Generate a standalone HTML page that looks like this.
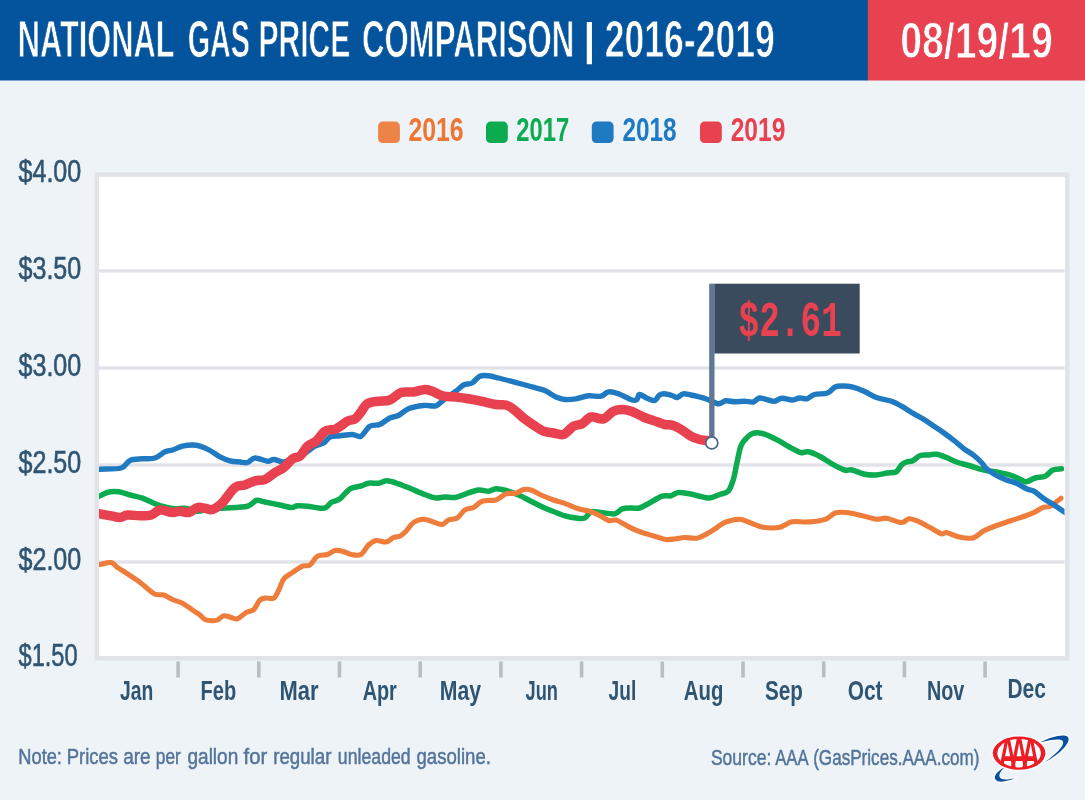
<!DOCTYPE html>
<html lang="en"><head><meta charset="utf-8"><title>National Gas Price Comparison | 2016-2019</title>
<style>html,body{margin:0;padding:0;background:#eef3f8}svg{display:block}text{font-family:"Liberation Sans",sans-serif}.m{font-family:"Liberation Mono",monospace}</style></head><body>
<svg width="1085" height="800" viewBox="0 0 1085 800">
<rect width="1085" height="800" fill="#eef3f8"/>
<rect x="0" y="0" width="868" height="80.5" fill="#03539d"/>
<rect x="867.8" y="0" width="217.2" height="80.5" fill="#e8414f"/>
<text x="17.69" y="56.8" font-size="51.0" font-weight="bold" fill="#fff" textLength="156.96" lengthAdjust="spacingAndGlyphs" stroke="#03539d" stroke-width="0.90">NATIONAL</text>
<text x="187.63" y="56.8" font-size="51.0" font-weight="bold" fill="#fff" textLength="62.25" lengthAdjust="spacingAndGlyphs" stroke="#03539d" stroke-width="0.90">GAS</text>
<text x="258.56" y="56.8" font-size="51.0" font-weight="bold" fill="#fff" textLength="91.77" lengthAdjust="spacingAndGlyphs" stroke="#03539d" stroke-width="0.90">PRICE</text>
<text x="362.12" y="56.8" font-size="51.0" font-weight="bold" fill="#fff" textLength="212.11" lengthAdjust="spacingAndGlyphs" stroke="#03539d" stroke-width="0.90">COMPARISON</text>
<text x="583.85" y="54.0" font-size="44.0" font-weight="bold" fill="#fff" textLength="11.24" lengthAdjust="spacingAndGlyphs">|</text>
<text x="604.78" y="56.8" font-size="51.0" font-weight="bold" fill="#fff" textLength="170.02" lengthAdjust="spacingAndGlyphs" stroke="#03539d" stroke-width="0.90">2016-2019</text>
<text x="900.26" y="58.2" font-size="49.6" font-weight="bold" fill="#fff" textLength="152.57" lengthAdjust="spacingAndGlyphs" stroke="#e8414f" stroke-width="0.90">08/19/19</text>
<rect x="378.1" y="121.6" width="21.8" height="21.5" rx="4.5" fill="#ee8347"/>
<rect x="486.0" y="121.6" width="21.8" height="21.5" rx="4.5" fill="#0cab50"/>
<rect x="591.8" y="121.6" width="21.8" height="21.5" rx="4.5" fill="#1f7ac2"/>
<rect x="700.0" y="121.6" width="21.8" height="21.5" rx="4.5" fill="#e8414f"/>
<text x="408.42" y="141.1" font-size="33.0" font-weight="bold" fill="#ec7633" textLength="55.25" lengthAdjust="spacingAndGlyphs">2016</text>
<text x="516.35" y="141.1" font-size="33.0" font-weight="bold" fill="#0cab50" textLength="52.92" lengthAdjust="spacingAndGlyphs">2017</text>
<text x="622.45" y="141.1" font-size="33.0" font-weight="bold" fill="#1f7ac2" textLength="54.22" lengthAdjust="spacingAndGlyphs">2018</text>
<text x="730.63" y="141.1" font-size="33.0" font-weight="bold" fill="#e8414f" textLength="54.69" lengthAdjust="spacingAndGlyphs">2019</text>
<rect x="96.75" y="174.6" width="970.5" height="483.7" fill="#fff" stroke="#e2e2e9" stroke-width="4.5"/>
<rect x="99" y="269.2" width="965.5" height="3.4" fill="#e2e2e9"/>
<rect x="99" y="366.3" width="965.5" height="3.4" fill="#e2e2e9"/>
<rect x="99" y="463.3" width="965.5" height="3.4" fill="#e2e2e9"/>
<rect x="99" y="560.3" width="965.5" height="3.4" fill="#e2e2e9"/>
<text x="18.50" y="182.3" font-size="32.0" font-weight="normal" fill="#2f5573" textLength="62.76" lengthAdjust="spacingAndGlyphs" stroke="#2f5573" stroke-width="0.60">$4.00</text>
<text x="18.50" y="279.2" font-size="32.0" font-weight="normal" fill="#2f5573" textLength="62.76" lengthAdjust="spacingAndGlyphs" stroke="#2f5573" stroke-width="0.60">$3.50</text>
<text x="18.50" y="375.9" font-size="32.0" font-weight="normal" fill="#2f5573" textLength="62.76" lengthAdjust="spacingAndGlyphs" stroke="#2f5573" stroke-width="0.60">$3.00</text>
<text x="18.50" y="472.9" font-size="32.0" font-weight="normal" fill="#2f5573" textLength="62.76" lengthAdjust="spacingAndGlyphs" stroke="#2f5573" stroke-width="0.60">$2.50</text>
<text x="18.50" y="569.9" font-size="32.0" font-weight="normal" fill="#2f5573" textLength="62.76" lengthAdjust="spacingAndGlyphs" stroke="#2f5573" stroke-width="0.60">$2.00</text>
<text x="18.53" y="666.3" font-size="32.0" font-weight="normal" fill="#2f5573" textLength="59.11" lengthAdjust="spacingAndGlyphs" stroke="#2f5573" stroke-width="0.60">$1.50</text>
<rect x="176.3" y="661.5" width="3.6" height="16" fill="#b9bec2"/>
<rect x="257.0" y="661.5" width="3.6" height="16" fill="#b9bec2"/>
<rect x="337.7" y="661.5" width="3.6" height="16" fill="#b9bec2"/>
<rect x="418.4" y="661.5" width="3.6" height="16" fill="#b9bec2"/>
<rect x="499.1" y="661.5" width="3.6" height="16" fill="#b9bec2"/>
<rect x="579.8" y="661.5" width="3.6" height="16" fill="#b9bec2"/>
<rect x="660.5" y="661.5" width="3.6" height="16" fill="#b9bec2"/>
<rect x="741.2" y="661.5" width="3.6" height="16" fill="#b9bec2"/>
<rect x="821.9" y="661.5" width="3.6" height="16" fill="#b9bec2"/>
<rect x="902.6" y="661.5" width="3.6" height="16" fill="#b9bec2"/>
<rect x="983.3" y="661.5" width="3.6" height="16" fill="#b9bec2"/>
<text x="120.11" y="699.5" font-size="28.5" font-weight="bold" fill="#2f5573" textLength="33.28" lengthAdjust="spacingAndGlyphs">Jan</text>
<text x="200.51" y="699.5" font-size="28.5" font-weight="bold" fill="#2f5573" textLength="35.61" lengthAdjust="spacingAndGlyphs">Feb</text>
<text x="279.41" y="699.5" font-size="28.5" font-weight="bold" fill="#2f5573" textLength="39.03" lengthAdjust="spacingAndGlyphs">Mar</text>
<text x="362.64" y="699.5" font-size="28.5" font-weight="bold" fill="#2f5573" textLength="34.22" lengthAdjust="spacingAndGlyphs">Apr</text>
<text x="439.83" y="699.5" font-size="28.5" font-weight="bold" fill="#2f5573" textLength="41.24" lengthAdjust="spacingAndGlyphs">May</text>
<text x="525.53" y="699.5" font-size="28.5" font-weight="bold" fill="#2f5573" textLength="32.40" lengthAdjust="spacingAndGlyphs">Jun</text>
<text x="608.58" y="699.5" font-size="28.5" font-weight="bold" fill="#2f5573" textLength="27.72" lengthAdjust="spacingAndGlyphs">Jul</text>
<text x="683.81" y="699.5" font-size="28.5" font-weight="bold" fill="#2f5573" textLength="39.55" lengthAdjust="spacingAndGlyphs">Aug</text>
<text x="765.05" y="699.5" font-size="28.5" font-weight="bold" fill="#2f5573" textLength="37.91" lengthAdjust="spacingAndGlyphs">Sep</text>
<text x="847.66" y="699.5" font-size="28.5" font-weight="bold" fill="#2f5573" textLength="34.94" lengthAdjust="spacingAndGlyphs">Oct</text>
<text x="926.93" y="699.5" font-size="28.5" font-weight="bold" fill="#2f5573" textLength="37.43" lengthAdjust="spacingAndGlyphs">Nov</text>
<text x="1007.49" y="697.7" font-size="28.5" font-weight="bold" fill="#2f5573" textLength="38.46" lengthAdjust="spacingAndGlyphs">Dec</text>
<defs><clipPath id="pc"><rect x="99" y="176.8" width="965.5" height="479.3"/></clipPath></defs>
<g fill="none" stroke-linejoin="round" stroke-linecap="round" clip-path="url(#pc)">
<path d="M97.0 497.0C97.5 496.8 98.0 496.6 100.0 495.8C102.0 495.0 105.7 492.7 108.8 492.0C111.9 491.3 115.3 491.3 118.8 491.8C122.3 492.3 126.0 493.9 130.0 495.0C133.9 496.1 138.3 496.7 142.5 498.2C146.7 499.7 151.2 502.3 155.0 503.8C158.8 505.3 161.7 506.2 165.0 507.0C168.3 507.8 171.7 508.6 175.0 508.8C178.3 509.0 181.2 507.8 185.0 508.2C188.8 508.6 193.3 511.1 197.5 511.2C201.7 511.3 205.4 509.3 210.0 508.8C214.6 508.3 218.8 508.4 225.0 508.0C231.2 507.6 242.3 507.4 247.5 506.2C252.7 504.9 253.3 501.2 256.2 500.5C259.1 499.8 261.0 501.2 265.0 502.0C269.0 502.8 275.6 504.1 280.0 505.0C284.4 505.9 288.3 507.4 291.2 507.5C294.1 507.6 294.8 506.0 297.5 505.8C300.2 505.6 303.1 505.8 307.5 506.2C311.9 506.6 319.9 508.8 323.8 508.2C327.8 507.6 328.5 504.1 331.2 502.5C333.9 500.9 336.9 501.1 340.0 498.8C343.1 496.5 346.5 490.9 350.0 488.8C353.5 486.7 357.9 486.9 361.0 486.0C364.1 485.1 365.6 483.7 368.5 483.2C371.4 482.7 375.4 483.6 378.5 483.2C381.6 482.8 383.9 480.7 387.2 480.8C390.5 480.9 394.5 482.5 398.5 483.8C402.5 485.1 406.4 486.9 411.0 488.8C415.6 490.7 421.8 493.5 426.0 495.0C430.2 496.5 432.9 497.7 436.0 498.0C439.1 498.3 441.7 497.1 444.8 497.0C447.9 496.9 451.3 498.0 454.8 497.5C458.3 497.0 462.1 495.1 466.0 493.8C469.9 492.6 474.8 490.4 478.5 490.0C482.2 489.6 485.6 491.4 488.5 491.2C491.4 491.0 493.1 488.9 496.0 488.8C498.9 488.7 502.2 489.5 506.0 490.5C509.8 491.5 514.3 493.2 518.5 495.0C522.7 496.8 526.8 499.1 531.0 501.2C535.2 503.3 539.3 505.6 543.5 507.5C547.7 509.4 552.2 511.1 556.0 512.5C559.8 514.0 562.7 515.3 566.0 516.2C569.3 517.1 572.9 517.7 576.0 518.0C579.1 518.3 582.3 519.0 584.8 518.0C587.3 517.0 588.3 512.7 591.0 511.8C593.7 510.9 597.0 512.2 601.0 512.5C605.0 512.8 611.3 514.4 614.8 513.8C618.3 513.2 619.3 509.8 622.2 508.8C625.1 507.8 629.1 508.1 632.0 508.0C634.9 507.9 636.6 508.8 639.5 508.0C642.4 507.2 645.8 505.0 649.5 503.0C653.2 501.0 658.5 497.4 662.0 496.2C665.5 495.0 668.1 496.4 670.8 495.8C673.5 495.2 675.1 492.8 678.2 492.5C681.3 492.2 686.0 493.2 689.5 493.8C693.0 494.4 696.2 495.5 699.5 496.2C702.8 496.9 706.2 498.3 709.5 498.0C712.8 497.7 716.4 495.6 719.5 494.5C722.6 493.4 725.9 493.6 728.2 491.2C730.5 488.8 731.7 484.8 733.2 480.0C734.7 475.2 735.7 468.1 737.0 462.5C738.3 456.9 739.3 450.1 740.8 446.2C742.3 442.2 743.9 440.9 745.8 438.8C747.7 436.7 749.7 434.8 752.0 433.8C754.3 432.8 756.8 432.7 759.5 433.0C762.2 433.3 764.9 434.1 768.2 435.5C771.5 436.9 776.0 439.3 779.5 441.2C783.0 443.1 786.0 445.1 789.5 447.0C793.0 448.9 797.7 451.7 800.8 452.5C803.9 453.3 805.1 451.2 808.2 451.8C811.3 452.4 815.5 454.2 819.5 456.2C823.5 458.2 827.8 461.5 832.0 463.8C836.2 466.1 841.2 469.0 844.5 470.0C847.8 471.0 848.7 469.3 852.0 470.0C855.3 470.7 860.5 473.4 864.5 474.2C868.5 475.0 872.2 475.2 876.0 475.0C879.8 474.8 883.7 473.5 887.0 473.0C890.3 472.5 893.6 473.3 896.0 472.0C898.4 470.7 899.8 466.7 901.5 465.0C903.2 463.3 904.6 462.7 906.5 462.0C908.4 461.3 910.5 461.9 912.8 460.8C915.1 459.7 917.5 456.5 920.2 455.5C922.9 454.5 926.3 455.2 929.0 455.0C931.7 454.8 933.6 453.8 936.5 454.2C939.4 454.6 943.2 456.2 946.5 457.5C949.8 458.8 952.8 460.7 956.5 462.0C960.2 463.3 964.4 464.2 969.0 465.5C973.6 466.8 979.0 468.8 984.0 470.0C989.0 471.2 994.4 471.6 999.0 472.5C1003.6 473.4 1007.8 474.2 1011.5 475.5C1015.2 476.8 1019.0 478.9 1021.5 480.0C1024.0 481.1 1024.2 482.1 1026.5 481.8C1028.8 481.5 1032.1 478.9 1035.2 478.0C1038.3 477.1 1042.3 477.5 1045.2 476.2C1048.1 474.9 1050.1 471.2 1052.8 470.0C1055.5 468.8 1060.0 469.0 1061.5 468.8" stroke="#0cab50" stroke-width="5.5"/>
<path d="M97.0 564.5C97.5 564.5 97.6 564.8 100.0 564.5C102.4 564.2 108.3 562.0 111.2 562.5C114.1 563.0 114.8 565.6 117.5 567.5C120.2 569.4 124.2 571.6 127.5 573.8C130.8 576.0 134.6 578.4 137.5 580.5C140.4 582.6 142.1 584.2 145.0 586.5C147.9 588.8 151.9 592.8 155.0 594.2C158.1 595.6 160.9 594.1 163.8 595.0C166.7 595.9 169.4 598.1 172.5 599.5C175.6 600.9 179.2 601.5 182.5 603.2C185.8 605.0 189.6 608.0 192.5 610.0C195.4 612.0 197.9 613.4 200.0 615.0C202.1 616.6 202.9 618.5 205.0 619.5C207.1 620.5 210.4 620.7 212.5 620.8C214.6 620.9 215.6 620.8 217.5 620.0C219.4 619.2 221.5 616.2 223.8 615.8C226.1 615.4 228.9 617.0 231.2 617.5C233.5 618.0 235.0 619.6 237.5 618.8C240.0 618.0 243.5 614.0 246.2 612.5C248.9 611.0 251.5 611.6 253.8 609.5C256.1 607.4 257.9 601.9 260.0 600.0C262.1 598.1 263.9 598.3 266.2 598.0C268.5 597.7 271.7 599.5 273.8 598.2C275.9 596.9 277.1 593.2 278.8 590.0C280.5 586.8 281.5 581.7 283.8 578.8C286.1 575.9 289.4 574.6 292.5 572.5C295.6 570.4 299.6 567.5 302.5 566.2C305.4 565.0 307.5 566.7 310.0 565.0C312.5 563.3 314.6 558.0 317.5 556.2C320.4 554.5 324.6 555.5 327.5 554.5C330.4 553.5 332.5 551.0 335.0 550.5C337.5 550.0 339.8 550.5 342.5 551.2C345.2 551.9 348.1 554.0 351.2 554.5C354.3 555.0 358.1 556.1 361.0 554.5C363.9 552.9 366.0 547.3 368.5 545.0C371.0 542.7 373.1 541.0 376.0 540.5C378.9 540.0 383.1 542.5 386.0 542.0C388.9 541.5 391.2 538.5 393.5 537.5C395.8 536.5 397.7 537.2 399.8 536.2C401.9 535.2 403.7 533.5 406.0 531.2C408.3 528.9 410.6 524.5 413.5 522.5C416.4 520.5 420.2 519.3 423.5 519.2C426.8 519.1 430.4 521.1 433.5 522.0C436.6 522.9 439.7 524.8 442.2 524.5C444.7 524.2 446.0 521.1 448.5 520.0C451.0 518.9 454.5 519.7 457.2 518.0C459.9 516.3 462.1 511.8 464.8 510.0C467.5 508.2 470.6 509.0 473.5 507.5C476.4 506.0 478.4 502.4 482.2 501.2C485.9 499.9 492.0 501.2 496.0 500.0C500.0 498.8 502.7 494.9 506.0 493.8C509.3 492.7 513.1 493.9 516.0 493.2C518.9 492.5 521.0 490.0 523.5 489.5C526.0 489.0 528.1 489.1 531.0 490.0C533.9 490.9 537.2 493.3 541.0 495.0C544.8 496.7 549.3 498.5 553.5 500.0C557.7 501.5 561.8 502.3 566.0 503.8C570.2 505.3 574.3 507.5 578.5 508.8C582.7 510.1 587.2 510.6 591.0 511.8C594.8 513.0 598.1 514.8 601.0 516.2C603.9 517.7 606.0 519.9 608.5 520.5C611.0 521.1 613.5 519.5 616.0 520.0C618.5 520.5 620.8 522.4 623.5 523.8C626.2 525.2 628.9 526.9 632.0 528.4C635.1 529.9 638.2 531.2 642.0 532.5C645.8 533.8 650.5 535.0 654.5 536.2C658.5 537.4 662.2 539.1 665.8 539.5C669.3 539.9 672.7 539.1 675.8 538.8C678.9 538.5 681.0 537.6 684.5 537.5C688.0 537.4 693.2 538.8 697.0 538.2C700.8 537.6 703.7 535.6 707.0 533.8C710.3 532.0 713.9 529.5 717.0 527.5C720.1 525.5 722.0 523.4 725.8 522.0C729.5 520.6 735.5 519.1 739.5 519.2C743.5 519.3 745.8 521.2 749.5 522.5C753.2 523.8 758.2 526.1 762.0 527.0C765.8 527.9 768.9 528.0 772.0 528.0C775.1 528.0 777.5 528.0 780.8 527.0C784.1 526.0 788.0 522.6 792.0 521.8C796.0 521.0 800.8 522.0 804.5 522.0C808.2 522.0 810.8 522.0 814.5 521.5C818.2 521.0 823.0 520.2 826.5 518.8C830.0 517.4 831.9 514.0 835.2 513.0C838.5 511.9 842.1 512.1 846.5 512.5C850.9 512.9 856.5 514.4 861.5 515.5C866.5 516.6 872.3 518.8 876.5 519.2C880.7 519.7 882.3 517.7 886.5 518.2C890.7 518.8 897.8 522.4 901.5 522.5C905.2 522.6 906.3 519.0 909.0 518.8C911.7 518.6 914.5 519.8 917.8 521.2C921.1 522.6 925.0 524.9 929.0 527.0C933.0 529.1 938.6 532.9 941.5 533.8C944.4 534.7 943.6 532.0 946.5 532.5C949.4 533.0 954.6 536.1 959.0 537.0C963.4 537.9 968.6 539.0 972.8 538.0C977.0 537.0 980.0 532.9 984.0 530.8C988.0 528.7 991.9 527.2 996.5 525.5C1001.1 523.8 1006.5 522.2 1011.5 520.5C1016.5 518.8 1022.8 516.8 1026.5 515.5C1030.2 514.2 1031.3 513.8 1034.0 512.5C1036.7 511.2 1040.1 508.6 1042.8 507.5C1045.5 506.4 1047.2 507.8 1050.2 506.2C1053.2 504.6 1059.2 499.5 1061.0 498.2" stroke="#ee7c3a" stroke-width="5.1"/>
<path d="M97.0 469.5C97.5 469.4 96.0 469.4 100.0 469.2C104.0 468.9 116.2 469.4 121.2 468.0C126.2 466.6 126.5 462.0 130.0 460.5C133.6 459.0 138.3 459.2 142.5 458.8C146.7 458.4 151.2 459.2 155.0 458.0C158.8 456.8 162.1 453.1 165.0 451.8C167.9 450.5 169.6 450.9 172.5 450.0C175.4 449.1 179.2 447.0 182.5 446.2C185.8 445.4 189.6 445.0 192.5 445.0C195.4 445.0 197.1 445.3 200.0 446.2C202.9 447.1 206.7 448.7 210.0 450.5C213.3 452.3 216.7 455.1 220.0 456.8C223.3 458.5 226.7 459.9 230.0 460.8C233.3 461.7 237.1 461.7 240.0 462.0C242.9 462.3 245.0 463.2 247.5 462.5C250.0 461.8 251.7 458.2 255.0 458.0C258.3 457.8 264.4 460.9 267.5 461.2C270.6 461.4 271.1 459.4 273.8 459.5C276.5 459.6 280.6 462.1 283.8 462.0C287.0 461.9 289.9 460.2 293.0 459.0C296.1 457.8 298.8 457.1 302.5 455.0C306.2 452.9 311.4 448.2 315.0 446.2C318.6 444.2 321.3 444.5 323.8 443.0C326.3 441.5 327.3 438.2 330.0 437.0C332.7 435.8 336.2 436.2 340.0 435.8C343.8 435.4 349.0 434.4 352.5 434.5C356.0 434.6 358.1 437.6 361.0 436.2C363.9 434.8 366.7 428.1 369.8 426.2C372.9 424.2 376.5 425.9 379.8 424.5C383.1 423.1 386.7 419.5 389.8 418.0C392.9 416.5 395.4 417.0 398.5 415.5C401.6 414.0 404.3 410.5 408.5 408.8C412.7 407.1 418.9 406.0 423.5 405.5C428.1 405.0 432.7 406.7 436.0 405.8C439.3 404.9 440.2 402.4 443.5 400.0C446.8 397.6 452.7 393.7 456.0 391.2C459.3 388.7 460.8 386.4 463.5 385.0C466.2 383.6 469.5 384.5 472.2 383.0C474.9 381.5 477.1 377.4 479.8 376.2C482.5 375.0 485.4 375.5 488.5 375.8C491.6 376.1 494.8 377.1 498.5 378.0C502.2 378.9 506.8 380.1 511.0 381.2C515.2 382.3 519.3 383.4 523.5 384.5C527.7 385.6 532.5 387.0 536.0 388.0C539.5 389.0 541.5 389.0 544.8 390.5C548.1 392.0 552.7 395.5 556.0 397.0C559.3 398.5 561.5 399.2 564.8 399.5C568.1 399.8 572.0 399.4 576.0 398.8C580.0 398.2 584.3 396.2 588.5 395.8C592.7 395.4 597.7 396.9 601.0 396.2C604.3 395.5 605.6 392.2 608.5 391.8C611.4 391.4 614.6 392.4 618.5 393.8C622.4 395.2 628.9 399.1 632.0 400.0C635.1 400.9 635.8 400.4 637.0 399.5C638.2 398.6 637.8 394.7 639.5 394.5C641.2 394.3 644.5 397.2 647.0 398.2C649.5 399.2 652.4 401.0 654.5 400.5C656.6 400.0 657.8 396.1 659.5 395.0C661.2 393.9 662.4 393.7 664.5 393.8C666.6 393.9 669.9 394.9 672.0 395.5C674.1 396.1 675.1 397.8 677.0 397.5C678.9 397.2 680.9 394.2 683.2 393.8C685.5 393.4 688.1 394.5 690.8 395.0C693.5 395.5 696.8 396.3 699.5 397.0C702.2 397.7 703.9 398.1 707.0 399.2C710.1 400.3 715.1 403.5 718.2 403.8C721.3 404.1 723.1 401.1 725.8 400.8C728.5 400.5 731.4 401.7 734.5 401.8C737.6 401.9 741.4 401.2 744.5 401.2C747.6 401.2 750.7 402.5 753.2 402.0C755.7 401.5 757.0 398.3 759.5 398.0C762.0 397.7 765.7 399.5 768.2 400.0C770.7 400.5 772.2 401.5 774.5 401.2C776.8 400.9 779.1 398.4 782.0 398.2C784.9 398.0 789.1 400.0 792.0 400.0C794.9 400.0 797.0 398.2 799.5 398.0C802.0 397.8 804.5 399.4 807.0 398.8C809.5 398.2 811.1 395.5 814.5 394.5C817.9 393.5 824.1 394.2 827.5 393.0C830.9 391.8 832.4 388.2 835.0 387.0C837.6 385.8 840.0 386.0 843.0 386.0C846.0 386.0 849.5 386.3 853.0 387.2C856.5 388.1 860.1 389.5 864.0 391.2C867.9 392.9 871.9 395.8 876.5 397.5C881.1 399.2 887.3 399.8 891.5 401.2C895.7 402.6 897.8 404.1 901.5 406.2C905.2 408.3 910.2 411.6 914.0 413.8C917.8 416.0 920.7 417.4 924.0 419.5C927.3 421.6 930.7 423.9 934.0 426.2C937.3 428.4 940.7 430.6 944.0 433.0C947.3 435.4 950.7 437.9 954.0 440.5C957.3 443.1 960.7 446.3 964.0 448.8C967.3 451.3 971.1 453.2 974.0 455.5C976.9 457.8 979.4 460.3 981.5 462.5C983.6 464.7 984.0 466.6 986.5 468.8C989.0 471.0 993.2 473.6 996.5 475.5C999.8 477.4 1003.2 478.7 1006.5 480.0C1009.8 481.3 1013.2 481.7 1016.5 483.2C1019.8 484.7 1023.6 487.5 1026.5 488.8C1029.4 490.1 1031.1 489.5 1034.0 491.2C1036.9 492.9 1040.7 496.5 1044.0 498.8C1047.3 501.1 1050.7 502.8 1054.0 505.0C1057.3 507.2 1061.7 510.2 1064.0 511.8C1066.3 513.4 1067.3 514.0 1068.0 514.5" stroke="#1f7ac2" stroke-width="5.4"/>
<path d="M97.0 513.0C97.5 513.1 97.4 513.3 100.0 513.8C102.6 514.3 109.2 515.6 112.5 516.2C115.8 516.8 117.5 517.7 120.0 517.5C122.5 517.3 124.2 515.3 127.5 515.0C130.8 514.7 136.1 515.8 140.0 515.8C143.9 515.8 147.9 516.0 151.2 515.0C154.5 514.0 156.4 510.4 160.0 510.0C163.6 509.6 169.2 512.3 172.5 512.5C175.8 512.7 177.3 511.2 180.0 511.2C182.7 511.2 185.9 513.1 188.8 512.5C191.7 511.9 194.8 508.2 197.5 507.5C200.2 506.8 202.5 507.9 205.0 508.2C207.5 508.5 209.6 510.4 212.5 509.5C215.4 508.6 218.8 506.2 222.5 502.5C226.2 498.8 231.2 490.4 235.0 487.5C238.8 484.6 241.7 486.1 245.0 485.0C248.3 483.9 251.7 481.7 255.0 480.8C258.3 479.9 261.7 480.9 265.0 479.5C268.3 478.1 271.9 474.5 275.0 472.5C278.1 470.5 280.9 469.8 283.8 467.5C286.7 465.2 289.8 460.7 292.5 458.8C295.2 456.9 297.5 458.3 300.0 456.2C302.5 454.1 304.8 448.7 307.5 446.2C310.2 443.7 313.3 443.7 316.2 441.2C319.1 438.7 321.7 433.3 325.0 431.2C328.3 429.1 332.4 430.5 336.2 428.8C339.9 427.1 344.4 422.9 347.5 421.2C350.6 419.5 352.8 420.3 355.0 418.8C357.2 417.3 359.0 414.5 361.0 412.0C363.0 409.5 364.3 405.6 367.2 403.8C370.1 402.0 374.7 401.8 378.5 401.2C382.3 400.6 386.1 401.4 389.8 400.0C393.6 398.6 397.1 393.8 401.0 392.5C404.9 391.2 409.5 392.5 413.5 392.0C417.5 391.5 421.7 389.6 424.8 389.5C427.9 389.4 429.1 390.1 432.2 391.2C435.3 392.3 439.5 395.2 443.5 396.2C447.5 397.2 451.8 396.6 456.0 397.0C460.2 397.4 464.3 398.1 468.5 398.8C472.7 399.5 476.4 400.2 481.0 401.2C485.6 402.1 491.8 403.9 496.0 404.5C500.2 405.1 503.1 404.2 506.0 405.0C508.9 405.8 510.6 407.0 513.5 409.2C516.4 411.4 520.2 415.4 523.5 418.0C526.8 420.6 530.2 422.8 533.5 425.0C536.8 427.2 540.2 429.9 543.5 431.2C546.8 432.5 550.2 432.4 553.5 433.0C556.8 433.6 560.2 435.6 563.5 434.5C566.8 433.4 570.4 428.0 573.5 426.2C576.6 424.4 579.3 425.3 582.2 423.8C585.1 422.3 587.5 417.8 591.0 417.0C594.5 416.2 599.8 419.8 603.5 418.8C607.2 417.8 610.2 412.8 613.5 411.2C616.8 409.6 620.4 409.4 623.5 409.5C626.6 409.6 628.5 410.2 632.0 411.5C635.5 412.8 640.3 415.8 644.5 417.5C648.7 419.2 653.7 420.6 657.0 421.8C660.3 423.0 661.8 423.9 664.5 424.5C667.2 425.1 670.3 424.6 673.2 425.5C676.1 426.4 679.1 428.2 682.0 430.0C684.9 431.8 687.9 434.6 690.8 436.2C693.7 437.8 696.8 438.8 699.5 439.5C702.2 440.2 705.1 440.1 707.0 440.5C708.9 440.9 710.3 441.8 711.0 442.0" stroke="#e8414f" stroke-width="9.5"/>
</g>
<rect x="709.2" y="283.7" width="5.3" height="154" fill="#5d7794"/>
<rect x="714.4" y="283.7" width="145.3" height="69.8" fill="#3a4b5d"/>
<circle cx="711.8" cy="442.9" r="6" fill="#fff" stroke="#4f6784" stroke-width="1.7"/>
<text x="738.52" y="336.0" font-size="50.0" font-weight="bold" fill="#e8414f" textLength="103.32" lengthAdjust="spacingAndGlyphs" class="m">$2.61</text>
<text x="18.34" y="763.8" font-size="22.4" font-weight="normal" fill="#53749a" textLength="43.57" lengthAdjust="spacingAndGlyphs" stroke="#53749a" stroke-width="0.50">Note:</text>
<text x="66.65" y="763.8" font-size="22.4" font-weight="normal" fill="#53749a" textLength="51.36" lengthAdjust="spacingAndGlyphs" stroke="#53749a" stroke-width="0.50">Prices</text>
<text x="123.20" y="763.8" font-size="22.4" font-weight="normal" fill="#53749a" textLength="27.53" lengthAdjust="spacingAndGlyphs" stroke="#53749a" stroke-width="0.50">are</text>
<text x="155.87" y="763.8" font-size="22.4" font-weight="normal" fill="#53749a" textLength="25.02" lengthAdjust="spacingAndGlyphs" stroke="#53749a" stroke-width="0.50">per</text>
<text x="187.47" y="763.8" font-size="22.4" font-weight="normal" fill="#53749a" textLength="50.77" lengthAdjust="spacingAndGlyphs" stroke="#53749a" stroke-width="0.50">gallon</text>
<text x="243.61" y="763.8" font-size="22.4" font-weight="normal" fill="#53749a" textLength="23.65" lengthAdjust="spacingAndGlyphs" stroke="#53749a" stroke-width="0.50">for</text>
<text x="273.25" y="763.8" font-size="22.4" font-weight="normal" fill="#53749a" textLength="58.12" lengthAdjust="spacingAndGlyphs" stroke="#53749a" stroke-width="0.50">regular</text>
<text x="337.86" y="763.8" font-size="22.4" font-weight="normal" fill="#53749a" textLength="72.78" lengthAdjust="spacingAndGlyphs" stroke="#53749a" stroke-width="0.50">unleaded</text>
<text x="416.47" y="763.8" font-size="22.4" font-weight="normal" fill="#53749a" textLength="74.48" lengthAdjust="spacingAndGlyphs" stroke="#53749a" stroke-width="0.50">gasoline.</text>
<text x="710.88" y="764.5" font-size="22.4" font-weight="normal" fill="#53749a" textLength="60.52" lengthAdjust="spacingAndGlyphs" stroke="#53749a" stroke-width="0.50">Source:</text>
<text x="775.22" y="764.5" font-size="22.4" font-weight="normal" fill="#53749a" textLength="33.29" lengthAdjust="spacingAndGlyphs" stroke="#53749a" stroke-width="0.50">AAA</text>
<text x="813.18" y="764.5" font-size="22.4" font-weight="normal" fill="#53749a" textLength="166.24" lengthAdjust="spacingAndGlyphs" stroke="#53749a" stroke-width="0.50">(GasPrices.AAA.com)</text>
<defs><clipPath id="lc"><ellipse cx="1019.1" cy="753.2" rx="26.3" ry="16.6"/></clipPath></defs>
<g>
<g fill="none" stroke="#fff" stroke-opacity="0.75" stroke-width="3" stroke-linejoin="round"><path d="M1040.3 742.3 C1049 737.5 1062.5 733.8 1067 736.3 C1072.5 739.5 1064 752 1044 762.8 C1057 753.5 1064.5 745.5 1063 741.5 C1061.5 738 1051 739.8 1040.3 742.3Z"/><path d="M1004.8 767.2 C998 770.5 993 776 995.5 779.5 C998.5 783.5 1008 781.2 1015.6 778 C1008 780 1001.5 780.3 999.8 777.3 C998.3 774.5 1001 770.3 1004.8 767.2Z"/><ellipse cx="1019.1" cy="753.2" rx="26.3" ry="16.6"/></g>
<path d="M1040.3 742.3 C1049 737.5 1062.5 733.8 1067 736.3 C1072.5 739.5 1064 752 1044 762.8 C1057 753.5 1064.5 745.5 1063 741.5 C1061.5 738 1051 739.8 1040.3 742.3Z" fill="#0a4ea2"/>
<path d="M1004.8 767.2 C998 770.5 993 776 995.5 779.5 C998.5 783.5 1008 781.2 1015.6 778 C1008 780 1001.5 780.3 999.8 777.3 C998.3 774.5 1001 770.3 1004.8 767.2Z" fill="#0a4ea2"/>
<ellipse cx="1019.1" cy="753.2" rx="26.3" ry="16.6" fill="#ee1c25"/>
<ellipse cx="1019.1" cy="753.2" rx="21.8" ry="14.2" fill="#fff"/>
<g clip-path="url(#lc)"><text transform="translate(1019.1 768.6) scale(0.56 1)" x="-37 -16.25 4.5" y="0" font-size="45" font-weight="bold" fill="#ee1c25">AAA</text></g>
</g>
</svg></body></html>
